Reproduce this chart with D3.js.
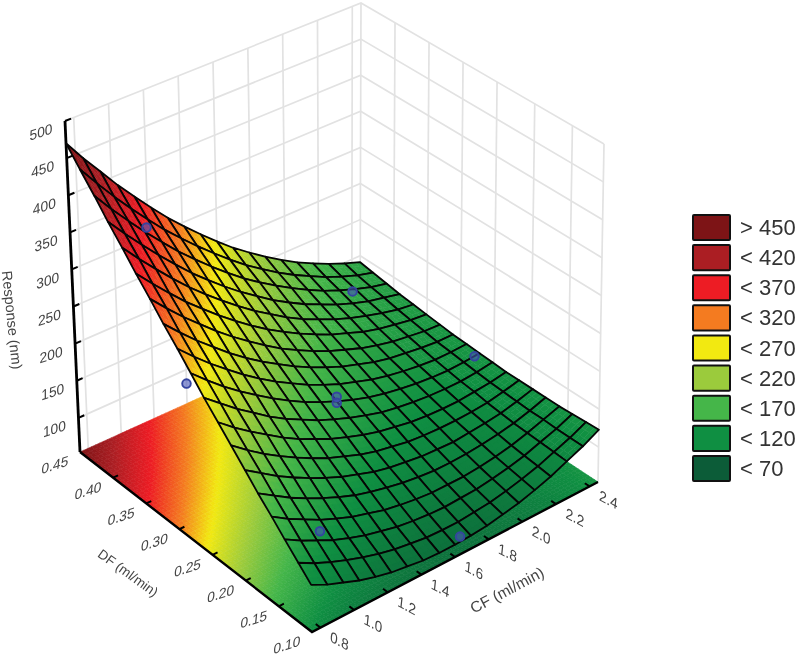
<!DOCTYPE html>
<html><head><meta charset="utf-8">
<style>html,body{margin:0;padding:0;background:#fff}svg{display:block;filter:blur(0.4px)}text{font-family:"Liberation Sans",Arial,sans-serif}</style>
<script src="https://cdnjs.cloudflare.com/ajax/libs/d3/7.8.5/d3.min.js"></script>
</head><body><svg id="c" width="800" height="658"></svg>
<script>
// ---- data ----
const cfGrid=[0.75,0.844,0.939,1.033,1.128,1.222,1.317,1.411,1.506,1.6,1.694,1.789,1.883,1.978,2.072,2.167,2.261,2.356,2.45];
const dfGrid=[0.45,0.431,0.411,0.392,0.372,0.353,0.333,0.314,0.294,0.275,0.256,0.236,0.217,0.197,0.178,0.158,0.139,0.119,0.10];
const responseGrid=[
[470,441,414,387,362,338,315,294,274,255,237,221,206,192,179,168,158,149,141],
[447,419,392,367,343,320,299,279,260,242,225,210,196,183,172,161,152,144,138],
[424,397,372,348,325,303,283,264,246,229,214,200,187,175,164,155,147,140,135],
[401,376,352,329,307,286,267,249,232,217,202,189,177,167,157,149,142,137,132],
[379,355,332,310,289,270,252,235,219,205,191,179,169,159,151,144,138,133,130],
[357,334,312,291,272,254,237,221,206,193,181,170,160,152,144,138,134,130,128],
[336,314,293,274,255,238,222,207,193,181,170,160,152,144,138,133,130,127,126],
[315,294,274,256,238,222,207,194,181,170,160,151,144,137,132,129,126,124,124],
[295,275,256,239,222,207,193,181,169,159,150,143,136,131,127,124,122,122,123],
[275,256,238,222,207,193,180,168,158,149,141,134,129,125,122,120,119,120,122],
[255,238,221,206,191,178,167,156,147,139,132,126,122,119,117,116,116,118,121],
[236,219,204,190,176,164,154,144,136,129,123,119,115,113,112,112,114,116,120],
[218,202,187,174,162,151,141,133,125,119,115,111,109,108,108,109,111,115,120],
[199,185,171,159,148,138,129,122,115,110,107,104,103,102,104,106,109,114,120],
[181,168,155,144,134,125,117,111,106,102,99,97,97,98,100,103,107,113,120],
[164,151,140,129,120,112,106,100,96,93,91,91,91,93,96,100,106,113,120],
[147,135,125,115,107,100,95,90,87,85,84,85,86,89,93,98,105,112,121],
[130,119,110,102,95,89,84,81,78,77,77,79,81,85,90,96,104,112,122],
[114,104,96,88,82,77,74,71,70,70,71,73,77,81,87,94,103,112,123]];
const markerCF=[1.0,2.2,2.42,1.6,1.6,1.0,1.63,0.75];
const markerDF=[0.40,0.40,0.275,0.275,0.275,0.15,0.10,0.282];
const markerResponse=[364,157,121,155,147,123,77,257];
const markerUnderSurface=[false,false,false,false,false,false,false,true];
const cfTicks=[0.8,1.0,1.2,1.4,1.6,1.8,2.0,2.2,2.4];
const cfTickLabels=["0.8","1.0","1.2","1.4","1.6","1.8","2.0","2.2","2.4"];
const dfTicks=[0.45,0.40,0.35,0.30,0.25,0.20,0.15,0.10];
const dfTickLabels=["0.45","0.40","0.35","0.30","0.25","0.20","0.15","0.10"];
const zTicks=[100,150,200,250,300,350,400,450,500];
const legendLabels=["> 450","< 420","< 370","< 320","< 270","< 220","< 170","< 120","< 70"];
const legendColors=["#7d1416","#ab1e23","#ed1c24","#f47b20","#f2e911","#9bcb3c","#45b649","#0f8f42","#0c5c38"];
const colorStopValues=[40,115,165,210,258,300,350,410,470];

// ---- scales and projection ----
const uS=d3.scaleLinear([0.75,2.45],[0,1]);
const sS=d3.scaleLinear([0.45,0.10],[0,1]);
const tS=d3.scaleLinear([54,500],[0,1]);
const wallS=d3.scaleLinear([0.45,0.25,0.15,0.10],[0,0.56,0.87,1]);
const color=d3.scaleLinear(colorStopValues,[...legendColors].reverse()).clamp(true);
const box={b:[[80,452],[360,325],[598,482],[312,632]],t:[[65,121],[361,3],[604,144],[306,282]]};
function pr(u,s,t){
  const bl=(c,k)=>(1-u)*(1-s)*c[0][k]+u*(1-s)*c[1][k]+u*s*c[2][k]+(1-u)*s*c[3][k];
  return [bl(box.b,0)*(1-t)+bl(box.t,0)*t, bl(box.b,1)*(1-t)+bl(box.t,1)*t];
}
const P=(cf,df,z)=>pr(uS(cf),sS(df),tS(z));
const line=d3.line();
const n=cfGrid.length-1,m=dfGrid.length-1;
function val(fi,fj){
  const i=Math.min(Math.floor(fi),n-1),j=Math.min(Math.floor(fj),m-1),a=fi-i,b=fj-j;
  const g=responseGrid;
  return (1-a)*(1-b)*g[j][i]+a*(1-b)*g[j][i+1]+a*b*g[j+1][i+1]+(1-a)*b*g[j+1][i];
}
const gridCF=fi=>{const i=Math.min(Math.floor(fi),n-1);return cfGrid[i]+(fi-i)*(cfGrid[i+1]-cfGrid[i]);};
const gridDF=fj=>{const j=Math.min(Math.floor(fj),m-1);return dfGrid[j]+(fj-j)*(dfGrid[j+1]-dfGrid[j]);};

const svg=d3.select("#c");
const wallCol="#e2e2e2";
const gWall=svg.append("g").attr("fill","none").attr("stroke",wallCol).attr("stroke-width",1.7);
const cfMin=cfGrid[0],cfMax=cfGrid[n],zMin=tS.invert(0),zMax=500;
zTicks.forEach(z=>{
  gWall.append("path").attr("d",line([P(cfMin,0.45,z),P(cfMax,0.45,z),P(cfMax,0.10,z)]));
});
cfTicks.concat([cfMin,cfMax]).forEach(c=>gWall.append("path").attr("d",line([P(c,0.45,zMin),P(c,0.45,zMax)])));
dfTicks.slice(1).forEach(d=>{
  const w=wallS(d);
  gWall.append("path").attr("d",line([pr(1,w,0),pr(1,w,1)]));
});

// floor contour map
const SUB=4;
const floorCells=[];
for(let i=n-1;i>=0;i--)for(let j=0;j<m;j++)for(let a=0;a<SUB;a++)for(let b=0;b<SUB;b++)
  floorCells.push({fi:i+a/SUB,fj:j+b/SUB,d:1/SUB});
const quad=(c,h)=>{
  const q=[[c.fi,c.fj],[c.fi+c.d,c.fj],[c.fi+c.d,c.fj+c.d],[c.fi,c.fj+c.d]];
  return line(q.map(([x,y])=>P(gridCF(x),gridDF(y),h?val(x,y):zMin)))+"Z";
};
svg.append("g").selectAll("path").data(floorCells).join("path")
  .attr("d",c=>quad(c,false))
  .attr("fill",c=>color(val(c.fi+c.d/2,c.fj+c.d/2)))
  .attr("stroke",c=>color(val(c.fi+c.d/2,c.fj+c.d/2))).attr("stroke-width",0.6);

// axes
const gAx=svg.append("g").attr("stroke","#000").attr("fill","none");
gAx.append("path").attr("stroke-width",2.8).attr("d",line([P(cfMin,0.45,zMax),P(cfMin,0.45,zMin)]));
gAx.append("path").attr("stroke-width",2.4).attr("d",line([P(cfMin,0.45,zMin),P(cfMin,0.10,zMin),P(cfMax,0.10,zMin)]));
gAx.selectAll("path.z").data(zTicks).join("path").attr("class","z").attr("stroke-width",2)
  .attr("d",z=>line([P(cfMin,0.45,z),P(cfMin+0.035,0.45,z)]));
gAx.selectAll("path.df").data(dfTicks.slice(1,-1)).join("path").attr("class","df").attr("stroke-width",2)
  .attr("d",d=>line([P(cfMin,d,zMin),P(cfMin+0.03,d,zMin)]));
gAx.selectAll("path.cf").data(cfTicks).join("path").attr("class","cf").attr("stroke-width",2)
  .attr("d",c=>line([P(c,0.10,zMin),P(c,0.107,zMin)]));

// experimental points under the surface
const ms=(sel)=>sel.attr("r",4.3).attr("fill","rgba(70,85,185,0.6)").attr("stroke","#3544a0").attr("stroke-width",1.9);
const mk=markerCF.map((c,i)=>({c,d:markerDF[i],r:markerResponse[i],under:markerUnderSurface[i]}));
ms(svg.append("g").selectAll("circle").data(mk.filter(e=>e.under)).join("circle")
  .attr("cx",e=>P(e.c,e.d,e.r)[0]).attr("cy",e=>P(e.c,e.d,e.r)[1]));

// surface, painted back to front
const cells=[];
for(let i=n-1;i>=0;i--)for(let j=0;j<m;j++)cells.push({i,j});
const SS=3;
const gc=svg.append("g").selectAll("g").data(cells).join("g");
gc.each(function(cell){
  const g=d3.select(this),subs=[];
  for(let a=0;a<SS;a++)for(let b=0;b<SS;b++)subs.push({fi:cell.i+a/SS,fj:cell.j+b/SS,d:1/SS});
  g.selectAll("path").data(subs).join("path")
    .attr("d",c=>quad(c,true))
    .attr("fill",c=>color(val(c.fi+c.d/2,c.fj+c.d/2)))
    .attr("stroke",c=>color(val(c.fi+c.d/2,c.fj+c.d/2))).attr("stroke-width",0.5);
  g.append("path").attr("d",quad({fi:cell.i,fj:cell.j,d:1},true))
    .attr("fill","none").attr("stroke","#050505").attr("stroke-width",1.8).attr("stroke-linejoin","round");
});

ms(svg.append("g").selectAll("circle").data(mk.filter(e=>!e.under)).join("circle")
  .attr("cx",e=>P(e.c,e.d,e.r)[0]).attr("cy",e=>P(e.c,e.d,e.r)[1]));

// tick labels
const labelFill="#444";
const skew=(x,y,ax,ay)=>{
  const r=Math.PI/180;
  return `matrix(${Math.cos(ax*r)},${Math.sin(ax*r)},${Math.sin(ay*r)},${Math.cos(ay*r)},${x},${y})`;
};
const gT=svg.append("g").attr("fill",labelFill).attr("font-size",14.5).attr("text-anchor","middle").attr("dominant-baseline","central");
gT.selectAll("text.z").data(zTicks).join("text").attr("class","z").text(d=>d)
  .attr("transform",z=>{const p=P(cfMin,0.45,z);return skew(p[0]-24,p[1]+11,-18,0);});
gT.selectAll("text.df").data(dfTicks).join("text").attr("class","df").text((d,i)=>dfTickLabels[i])
  .attr("transform",d=>{const p=P(cfMin,d,zMin);return skew(p[0]-25,p[1]+13,-18,-6);});
gT.selectAll("text.cf").data(cfTicks).join("text").attr("class","cf").attr("font-size",15).text((d,i)=>cfTickLabels[i])
  .attr("transform",c=>{const p=P(c,0.10,zMin);return skew(p[0]+19,p[1]+13,28,-6);});
// axis titles
const title=(t,x,y,a,size)=>svg.append("text").text(t).attr("text-anchor","middle").attr("dominant-baseline","central")
  .attr("fill",labelFill).attr("font-size",size).attr("transform",`translate(${x},${y}) rotate(${a})`);
title("Response (nm)",12,320,84,14.5);
title("DF (ml/min)",128,573,36,13.5);
title("CF (ml/min)",507,590,-28,15.5);

// legend
const lY=d3.scaleBand(legendLabels,[215,481]).paddingInner(0.17).paddingOuter(0);
const gL=svg.append("g");
gL.selectAll("rect").data(legendLabels).join("rect")
  .attr("x",693).attr("y",d=>lY(d)).attr("width",37).attr("height",lY.bandwidth()).attr("rx",1)
  .attr("fill",(d,i)=>legendColors[i]).attr("stroke","#111").attr("stroke-width",2);
gL.selectAll("text").data(legendLabels).join("text").text(d=>d)
  .attr("x",740).attr("y",d=>lY(d)+lY.bandwidth()/2).attr("dominant-baseline","central")
  .attr("font-size",22).attr("fill","#333");
</script></body></html>
